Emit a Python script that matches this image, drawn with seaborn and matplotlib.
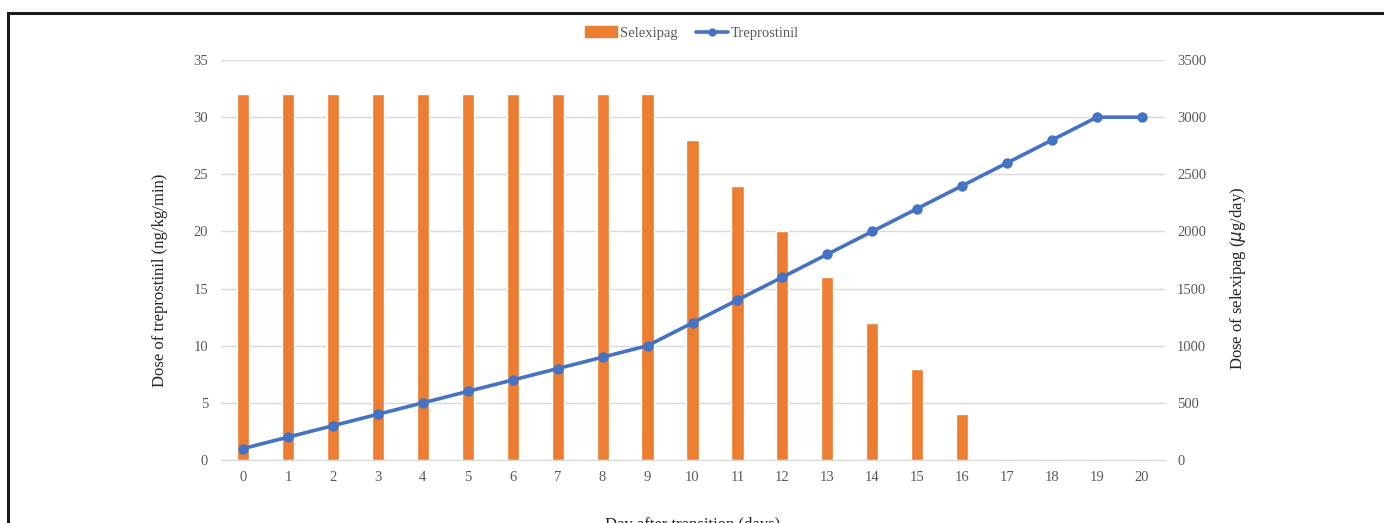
import numpy as np
import pandas as pd
import matplotlib
matplotlib.use("Agg")
import matplotlib.pyplot as plt
import matplotlib.patches as mpatches
from matplotlib.lines import Line2D
import seaborn as sns

# data
days = list(range(21))
selexipag = [3200, 3200, 3200, 3200, 3200, 3200, 3200, 3200, 3200, 3200,
             2800, 2400, 2000, 1600, 1200, 800, 400, 0, 0, 0, 0]
treprostinil = [1, 2, 3, 4, 5, 6, 7, 8, 9, 10,
                12, 14, 16, 18, 20, 22, 24, 26, 28, 30, 30]

orange = "#ED7D31"
blue = "#4472C4"
grey_txt = "#595959"

sns.set_style("white")
plt.rcParams['font.family'] = ['Liberation Serif', 'DejaVu Serif']

fig = plt.figure(figsize=(13.84, 5.23), dpi=100)
ax = fig.add_axes([220.5 / 1384, 1 - 460 / 523, 944 / 1384, 400 / 523])
ax2 = ax.twinx()

# bars on the right axis, drawn behind the line
sns.barplot(x=days, y=selexipag, ax=ax2, color=orange, saturation=1, width=0.27)
ax2.set_ylim(0, 3500)
ax2.set_yticks(np.arange(0, 3501, 500))
ax2.yaxis.grid(True, color="#d9d9d9", linewidth=1)
ax2.set_axisbelow(True)

ax.set_zorder(ax2.get_zorder() + 1)
ax.patch.set_visible(False)
sns.lineplot(x=days, y=treprostinil, ax=ax, color=blue, linewidth=2.6,
             marker='o', markersize=7.5, markeredgewidth=0)
ax.set_ylim(0, 35)
ax.set_yticks(np.arange(0, 36, 5))
ax.set_xticks(days)
ax.set_xticklabels([str(d) for d in days])
for a in (ax, ax2):
    a.set_xlim(-0.5, 20.5)
    for s in a.spines.values():
        s.set_visible(False)
    a.tick_params(length=0, labelsize=10.5, colors=grey_txt)
ax.spines['bottom'].set_visible(True)
ax.spines['bottom'].set_color("#d9d9d9")
ax.tick_params(axis='x', pad=8)
ax.tick_params(axis='y', pad=9)
ax2.tick_params(axis='y', pad=9)

ax.set_xlabel("Day after transition (days)", fontsize=12)
ax.set_ylabel("Dose of treprostinil (ng/kg/min)", fontsize=12)
ax2.set_ylabel(r"Dose of selexipag ($\mu$g/day)", fontsize=12)
ax.xaxis.set_label_coords(0.5, -57 / 400)
ax.yaxis.set_label_coords(-52 / 944, 0.45)
ax2.yaxis.set_label_coords(1 + 64 / 944, 0.455)

handles = [mpatches.Patch(color=orange, label="Selexipag"),
           Line2D([0], [0], color=blue, linewidth=2.6, marker='o', markersize=6,
                  markeredgewidth=0, label="Treprostinil")]
fig.legend(handles=handles, loc="center", bbox_to_anchor=(0.5, 1 - 33 / 523), ncol=2,
           frameon=False, fontsize=10.5, handlelength=2.2, handletextpad=0.2,
           columnspacing=1.2, labelcolor=grey_txt)

# black frame around the figure (left and top visible)
frame = mpatches.Rectangle((8 / 1384, -0.1), 1.2, 1 - 13 / 523 + 0.1,
                           transform=fig.transFigure, fill=False,
                           edgecolor="#1a1a1a", linewidth=2.2, clip_on=False)
fig.patches.append(frame)

fig.savefig("out.png", dpi=100)
